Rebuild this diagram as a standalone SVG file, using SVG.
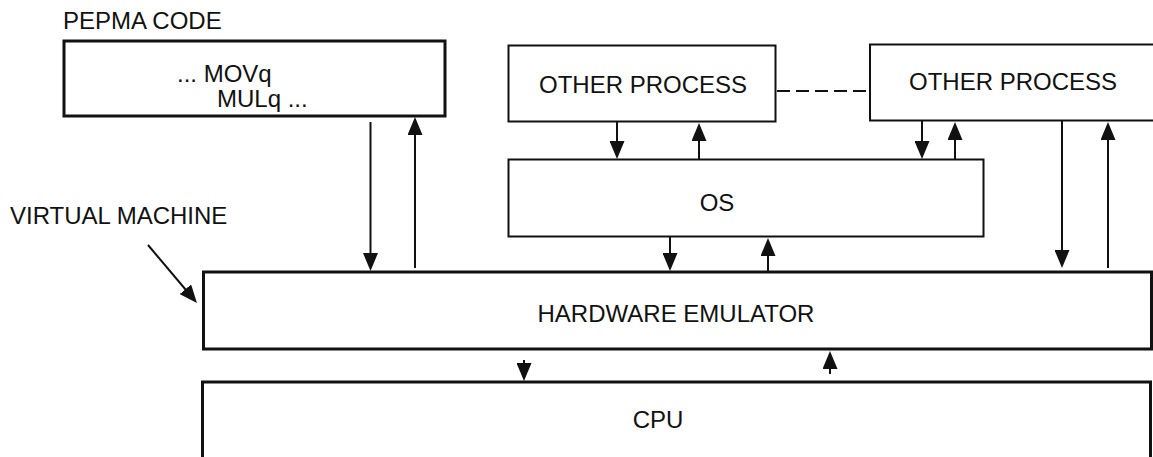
<svg xmlns="http://www.w3.org/2000/svg" width="1153" height="457" viewBox="0 0 1153 457">
  <style>
    text { font-family: "Liberation Sans", Arial, sans-serif; font-size: 24px; fill: #111; }
    .box { fill: #fff; stroke: #111; }
    .thick { stroke-width: 3; }
    .thin { stroke-width: 2; }
    .flow { stroke: #111; stroke-width: 2; fill: none; marker-end: url(#head); }
    .dash { stroke: #111; stroke-width: 2; stroke-dasharray: 13 6; fill: none; }
  </style>
  <defs>
    <marker id="head" viewBox="0 0 18 15" markerWidth="18" markerHeight="15" refX="14" refY="7.5" orient="auto" markerUnits="userSpaceOnUse">
      <path d="M0,0 L18,7.5 L0,15 z" fill="#111"/>
    </marker>
  </defs>
  <rect width="1153" height="457" fill="#fff"/>

  <!-- free labels -->
  <text x="63" y="29">PEPMA CODE</text>
  <text x="10" y="224">VIRTUAL MACHINE</text>

  <g id="pepma-code">
    <rect class="box thick" x="64" y="41" width="381" height="75"/>
    <text x="177" y="82">... MOVq</text>
    <text x="217" y="107">MULq ...</text>
  </g>

  <g id="other-process-1">
    <rect class="box thin" x="508.5" y="45.5" width="267" height="76"/>
    <text x="643" y="93" text-anchor="middle">OTHER PROCESS</text>
  </g>

  <g id="other-process-2">
    <rect class="box thin" x="870" y="44.5" width="300" height="76"/>
    <text x="1013" y="90" text-anchor="middle">OTHER PROCESS</text>
  </g>

  <g id="os">
    <rect class="box thin" x="508.5" y="159.5" width="475" height="77"/>
    <text x="717" y="211" text-anchor="middle">OS</text>
  </g>

  <g id="hardware-emulator">
    <rect class="box thick" x="203.5" y="272" width="948" height="77"/>
    <text x="676" y="322" text-anchor="middle">HARDWARE EMULATOR</text>
  </g>

  <g id="cpu">
    <rect class="box thick" x="202.5" y="382" width="948" height="90"/>
    <text x="658" y="428" text-anchor="middle">CPU</text>
  </g>

  <g id="connectors">
    <!-- code <-> emulator -->
    <line class="flow" x1="370.5" y1="122" x2="370.5" y2="267"/>
    <line class="flow" x1="415" y1="268" x2="415" y2="121"/>
    <!-- processes <-> OS -->
    <line class="flow" x1="617" y1="122" x2="617" y2="155"/>
    <line class="flow" x1="699" y1="159" x2="699" y2="127"/>
    <line class="flow" x1="922" y1="121" x2="922" y2="155"/>
    <line class="flow" x1="955" y1="159" x2="955" y2="126"/>
    <!-- OS <-> emulator -->
    <line class="flow" x1="670" y1="237" x2="670" y2="267"/>
    <line class="flow" x1="768" y1="272" x2="768" y2="242"/>
    <!-- second process <-> emulator -->
    <line class="flow" x1="1062" y1="121" x2="1062" y2="264"/>
    <line class="flow" x1="1108" y1="268" x2="1108" y2="126"/>
    <!-- emulator <-> CPU -->
    <line class="flow" x1="524" y1="360" x2="524" y2="377"/>
    <line class="flow" x1="830" y1="374" x2="830" y2="355"/>
    <!-- virtual machine pointer -->
    <line class="flow" x1="148" y1="245" x2="194.4" y2="300"/>
    <!-- link between processes -->
    <line class="dash" x1="777" y1="91" x2="869" y2="91"/>
  </g>
</svg>
